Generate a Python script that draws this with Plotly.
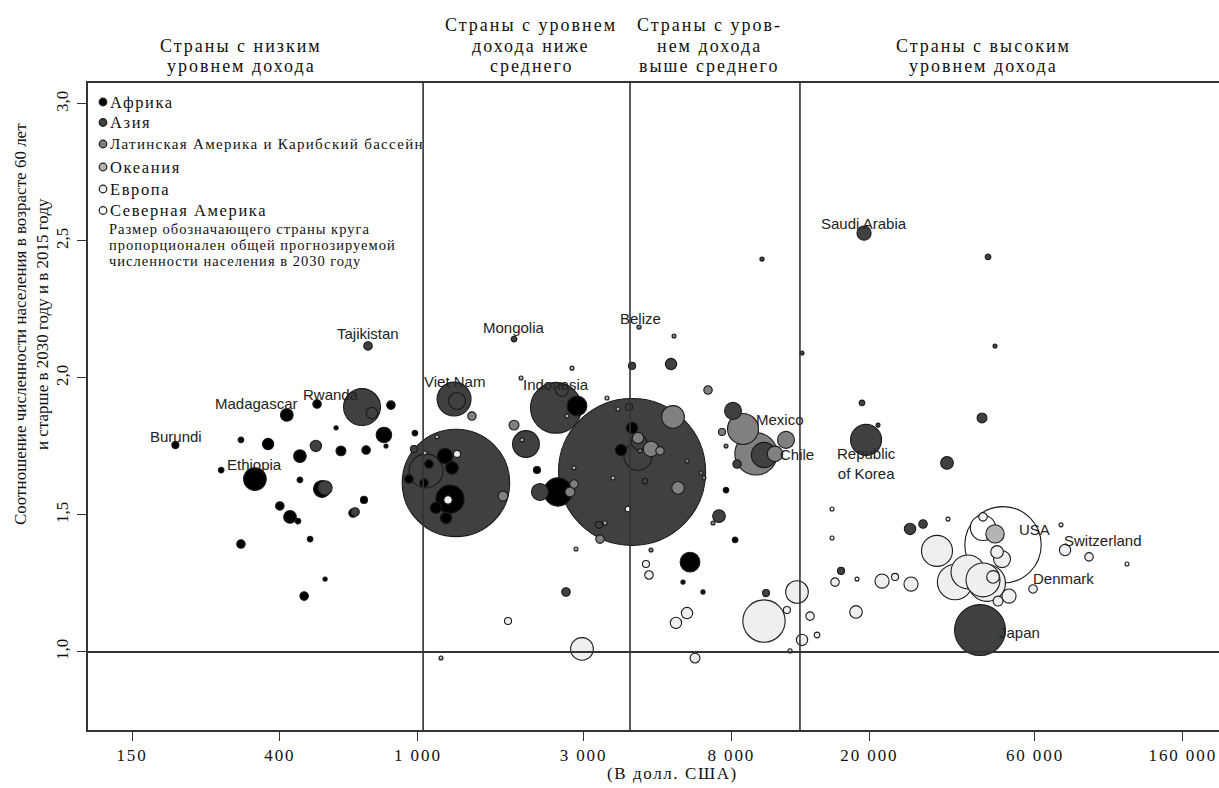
import math
import plotly.graph_objects as go

# ---------------- DATA ----------------
# x: income per capita (USD, log scale); y: ratio 60+ population 2030/2015; pop: projected total population 2030 (millions)
africa_gni = [419, 512, 836, 200, 309, 370, 581, 798, 980, 457, 600, 709, 809, 271, 339, 457, 942, 529, 699, 400,
              428, 451, 650, 309, 489, 540, 470, 1197, 1254, 1237, 1127, 1205, 1076, 1041, 2873, 2203, 2533, 3847,
              4140, 7724, 8203, 6083, 5806, 6630]
africa_ratio = [1.865, 1.905, 1.901, 1.755, 1.774, 1.759, 1.818, 1.792, 1.799, 1.715, 1.734, 1.737, 1.752, 1.664,
                1.631, 1.628, 1.631, 1.595, 1.555, 1.533, 1.493, 1.478, 1.507, 1.394, 1.412, 1.266, 1.204, 1.715,
                1.672, 1.558, 1.526, 1.489, 1.686, 1.617, 1.898, 1.664, 1.584, 1.737, 1.818, 1.591, 1.409, 1.328,
                1.255, 1.219]
africa_pop = [10, 4.5, 4.5, 3.1, 2, 8, 1.1, 15, 2, 10, 6.1, 4.5, 0.5, 2, 32, 2, 4.5, 18, 3.1, 4.5,
              10, 2, 4.5, 4.5, 2, 1.1, 4.5, 15, 10, 50, 8, 8, 4.5, 4.5, 24.5, 3.1, 50, 8,
              8, 2, 2, 24.5, 1.1, 1.1]

asia_gni = [718, 690, 737, 508, 974, 540, 659, 1892, 1271, 1296, 1287, 1055, 2048, 2499, 2601, 2247, 4058, 4140,
            3325, 2671, 4140, 4336, 4307, 5362, 4511, 8091, 9938, 8311, 7373, 10070, 19300, 42230, 19560, 33470,
            26190, 28550, 16570, 41670, 9808, 43950, 46030, 19040, 12790, 21180]
asia_ratio = [2.117, 1.894, 1.872, 1.752, 1.741, 1.599, 1.511, 2.142, 1.923, 1.916, 1.617, 1.661, 1.759, 1.891,
              1.956, 1.584, 1.894, 2.044, 1.464, 1.219, 1.657, 1.766, 1.715, 2.051, 1.624, 1.880, 1.719, 1.686,
              1.496, 1.215, 2.529, 1.854, 1.774, 1.690, 1.449, 1.467, 1.296, 1.080, 2.434, 2.442, 2.117, 1.909,
              2.091, 1.828]
asia_pop = [4.5, 85, 8, 8, 3.1, 12.5, 4.5, 2, 72, 18, 722, 72, 45, 162, 10, 18, 3.1, 3.1,
            3.1, 4.5, 1352, 15, 50, 8, 2, 18, 40, 4.5, 10, 3.1, 12.5, 6.1, 60, 10,
            8, 4.5, 3.1, 162, 1.1, 2, 0.5, 2, 0.5, 0.5]

latam_gni = [1759, 1892, 2743, 2817, 3347, 4336, 6855, 5434, 8646, 9426, 10690, 11500, 7522, 4307, 4696, 4984,
             5617, 1431, 4365, 7724, 5470, 5963, 6543, 6673, 7087, 4696]
latam_ratio = [1.569, 1.828, 1.584, 1.613, 1.412, 2.186, 1.956, 1.858, 1.814, 1.723, 1.723, 1.774, 1.803, 1.781,
               1.741, 1.734, 1.599, 1.861, 1.734, 1.752, 2.153, 1.697, 1.653, 1.635, 1.471, 1.372]
latam_pop = [6.1, 6.1, 6.1, 4.5, 4.5, 1.1, 4.5, 32, 60, 112, 15, 18, 3.1, 8, 15, 4.5,
             10, 4.5, 0.5, 0.5, 0.5, 0.5, 0.5, 0.5, 0.5, 0.5]

oceania_gni = [46030, 1994, 2780, 1982, 1135, 1048, 3506, 3772, 2689, 2817, 3460, 2854, 3649, 1165]
oceania_ratio = [1.431, 1.774, 2.036, 2.000, 1.785, 1.726, 1.927, 1.887, 1.861, 1.672, 1.471, 1.376, 1.635, 0.978]
oceania_pop = [21, 0.5, 0.5, 0.5, 0.5, 0.5, 0.5, 0.5, 0.5, 0.5, 0.5, 0.5, 0.5, 0.5]

europe_gni = [2970, 1818, 4031, 1296, 1221, 4541, 4632, 5963, 5541, 6288, 12370, 11570, 13490, 9938, 12790, 14130,
              15920, 21750, 23710, 26360, 18300, 31320, 35300, 38470, 42500, 43650, 45420, 50510, 46960, 59240,
              73250, 85900, 42500, 46650, 48220, 15610, 18420, 71330, 110500, 33700, 15610, 11810]
europe_ratio = [1.011, 1.113, 1.522, 1.723, 1.555, 1.321, 1.281, 1.142, 1.106, 0.978, 1.219, 1.153, 1.131, 1.113,
                1.044, 1.062, 1.255, 1.259, 1.274, 1.248, 1.146, 1.369, 1.255, 1.292, 1.263, 1.252, 1.274, 1.204,
                1.186, 1.230, 1.372, 1.347, 1.493, 1.365, 1.339, 1.416, 1.266, 1.464, 1.321, 1.485, 1.522, 1.004]
europe_pop = [32, 3.1, 2, 3.1, 4.5, 3.1, 4.5, 8, 8, 6.1, 32, 3.1, 4.5, 112, 8, 2,
              4.5, 12.5, 3.1, 12.5, 10, 60, 78, 72, 72, 85, 10, 12.5, 6.1, 4.5,
              8, 4.5, 4.5, 10, 18, 0.5, 0.5, 0.5, 0.5, 0.5, 0.5, 1.1]

namerica_gni = [48540, 42500]
namerica_ratio = [1.391, 1.453]
namerica_pop = [365, 40]

region_names = ["Африка", "Азия", "Латинская Америка и Карибский бассейн", "Океания", "Европа", "Северная Америка"]

label_text = ["Saudi Arabia", "Tajikistan", "Mongolia", "Belize", "Viet Nam", "Indonesia", "Rwanda", "Madagascar",
              "Burundi", "Ethiopia", "Mexico", "Chile", "Republic<br>of Korea", "USA", "Switzerland", "Denmark", "Japan"]
label_gni = [19300, 718, 1892, 4336, 1271, 2499, 512, 419, 200, 339, 8646, 10690, 19560, 48540, 73250, 59240, 41670]
label_ratio = [2.529, 2.117, 2.142, 2.186, 1.923, 1.891, 1.905, 1.865, 1.755, 1.631, 1.814, 1.723, 1.774, 1.391,
               1.372, 1.230, 1.080]

income_thresholds = [1035, 4085, 12615]
x_tickvals = [150, 400, 1000, 3000, 8000, 20000, 60000, 160000]
x_ticktext = ["150", "400", "1 000", "3 000", "8 000", "20 000", "60 000", "160 000"]
y_tickvals = [1.0, 1.5, 2.0, 2.5, 3.0]
y_ticktext = ["1,0", "1,5", "2,0", "2,5", "3,0"]

# ---------------- STYLE ----------------
region_fill = ["#000000", "#404040", "#808080", "#b4b4b4", "#efefef", "#ffffff"]
SERIF = "Liberation Serif, Times New Roman, serif"
SANS = "Liberation Sans, Arial, sans-serif"
W, H = 1219, 788
PL, PR, PT, PB = 88, 1219, 83, 730


def ls(t, sp):
    return f'<span style="letter-spacing:{sp}px">{t}</span>'


def pxx(px):
    return (px - PL) / (PR - PL)


def pyy(py):
    return (PB - py) / (PB - PT)


groups = [
    (africa_gni, africa_ratio, africa_pop),
    (asia_gni, asia_ratio, asia_pop),
    (latam_gni, latam_ratio, latam_pop),
    (oceania_gni, oceania_ratio, oceania_pop),
    (europe_gni, europe_ratio, europe_pop),
    (namerica_gni, namerica_ratio, namerica_pop),
]
pts = []
for gi, (gx, gy, gp) in enumerate(groups):
    for a, b, c in zip(gx, gy, gp):
        pts.append((a, b, c, region_fill[gi]))
pts.sort(key=lambda p: -p[2])  # large bubbles drawn first

fig = go.Figure()
fig.add_trace(go.Scatter(
    x=[p[0] for p in pts], y=[p[1] for p in pts], mode="markers",
    marker=dict(size=[p[2] for p in pts], sizemode="area", sizeref=0.125, sizemin=2,
                color=[p[3] for p in pts], opacity=1,
                line=dict(color="#1a1a1a", width=1.1)),
    hoverinfo="skip", showlegend=False,
))

shapes = []
for t in income_thresholds:
    shapes.append(dict(type="line", xref="x", yref="paper", x0=t, x1=t, y0=0, y1=1,
                       line=dict(color="#333333", width=1.6), layer="above"))
shapes.append(dict(type="line", xref="paper", yref="y", x0=0, x1=1, y0=1.0, y1=1.0,
                   line=dict(color="#333333", width=2), layer="above"))

annotations = []
# header texts above the plot
headers = [
    (241, [("Страны с низким", 46), ("уровнем дохода", 66)]),
    (531, [("Страны с уровнем", 25), ("дохода ниже", 46), ("среднего", 66)]),
    (709, [("Страны с уров-", 25), ("нем дохода", 46), ("выше среднего", 66)]),
    (983, [("Страны с высоким", 46), ("уровнем дохода", 66)]),
]
for cx, lines in headers:
    for txt, cy in lines:
        annotations.append(dict(text=ls(txt, 2.0), xref="paper", yref="paper", x=pxx(cx), y=pyy(cy),
                                xanchor="center", yanchor="middle", showarrow=False,
                                font=dict(family=SERIF, size=18, color="#111")))

# legend
leg_rows = [102, 122.5, 144, 167, 189, 210.5]
leg_sizes = [16.5, 16.5, 15, 16.5, 16.5, 16.5]
leg_sp = [1.6, 1.6, 1.3, 1.6, 1.6, 1.6]
for i, name in enumerate(region_names):
    cy = leg_rows[i]
    shapes.append(dict(type="circle", xref="paper", yref="paper", xsizemode="pixel", ysizemode="pixel",
                       xanchor=pxx(103), yanchor=pyy(cy), x0=-3.8, x1=3.8, y0=-3.8, y1=3.8,
                       fillcolor=region_fill[i], line=dict(color="#1a1a1a", width=1.2), layer="above"))
    annotations.append(dict(text=ls(name, leg_sp[i]), xref="paper", yref="paper",
                            x=pxx(108), y=pyy(cy), xanchor="left", yanchor="middle", showarrow=False,
                            font=dict(family=SERIF, size=leg_sizes[i], color="#111")))
note_lines = [("Размер обозначающего страны круга", 229), ("пропорционален общей прогнозируемой", 245),
              ("численности населения в 2030 году", 261)]
for txt, cy in note_lines:
    annotations.append(dict(text=ls(txt, 1.0), xref="paper", yref="paper", x=pxx(107), y=pyy(cy),
                            xanchor="left", yanchor="middle", showarrow=False,
                            font=dict(family=SERIF, size=14.5, color="#111")))

# country labels (offsets in pixels from the bubble centre)
label_shift = {
    "Saudi Arabia": (0, 10), "Tajikistan": (0, 12), "Mongolia": (0, 12), "Belize": (1, 9),
    "Viet Nam": (0, 18), "Indonesia": (0, 23), "Rwanda": (14, 10), "Madagascar": (-30, 11),
    "Burundi": (1, 9), "Ethiopia": (0, 15), "Mexico": (37, 9), "Chile": (22, -1),
    "Republic<br>of Korea": (0, -24), "USA": (31, 15), "Switzerland": (38, 10), "Denmark": (30, 10),
    "Japan": (39, -2),
}
for t, gx, gy in zip(label_text, label_gni, label_ratio):
    dx, dy = label_shift[t]
    annotations.append(dict(text=t, x=math.log10(gx), y=gy, xref="x", yref="y", xshift=dx, yshift=dy,
                            xanchor="center", yanchor="middle", showarrow=False,
                            font=dict(family=SANS, size=15, color="#222")))

# axis titles
annotations.append(dict(text=ls("(В долл. США)", 1.6), xref="paper", yref="paper", x=pxx(672), y=pyy(774),
                        xanchor="center", yanchor="middle", showarrow=False,
                        font=dict(family=SERIF, size=17, color="#111")))
for txt, cx in [("Соотношение численности населения в возрасте 60 лет", 20),
                ("и старше в 2030 году и в 2015 году", 42)]:
    annotations.append(dict(text=txt, xref="paper", yref="paper", x=pxx(cx), y=pyy(324),
                            xanchor="center", yanchor="middle", textangle=-90, showarrow=False,
                            font=dict(family=SERIF, size=17, color="#111")))

fig.update_layout(
    width=W, height=H,
    margin=dict(l=PL, r=W - PR, t=PT, b=H - PB),
    paper_bgcolor="white", plot_bgcolor="white",
    shapes=shapes, annotations=annotations,
    showlegend=False,
    xaxis=dict(type="log", range=[2.0492, 5.3085], tickvals=x_tickvals,
               ticktext=[ls(t, 1.9) for t in x_ticktext],
               ticks="outside", ticklen=9, tickwidth=1, tickcolor="#333",
               showline=True, linecolor="#333", linewidth=2, mirror=True,
               showgrid=False, zeroline=False,
               tickfont=dict(family=SERIF, size=17, color="#111")),
    yaxis=dict(range=[0.7153, 3.0766], tickvals=y_tickvals, ticktext=y_ticktext, tickangle=-90,
               ticks="outside", ticklen=9, tickwidth=1, tickcolor="#333", ticklabelstandoff=2,
               showline=True, linecolor="#333", linewidth=2,
               showgrid=False, zeroline=False,
               tickfont=dict(family=SERIF, size=17, color="#111")),
)

fig.write_html("out.html", config={"displayModeBar": False},
               post_script="document.body.style.margin='0';document.body.style.overflow='hidden';")
